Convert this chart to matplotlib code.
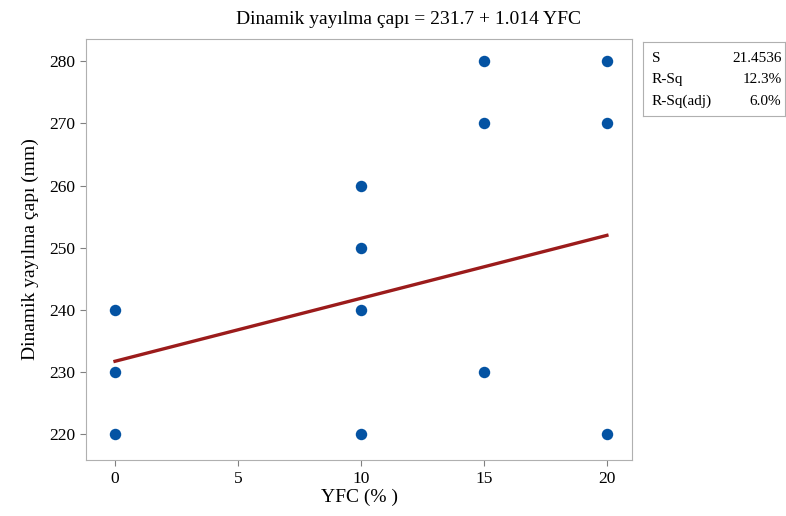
import matplotlib
matplotlib.use("Agg")
import matplotlib.pyplot as plt
import numpy as np

plt.rcParams['font.family'] = ['Liberation Serif', 'DejaVu Serif']

# observations
yfc = [0, 0, 0, 10, 10, 10, 10, 15, 15, 15, 20, 20, 20]
cap = [220, 230, 240, 220, 240, 250, 260, 230, 270, 280, 220, 270, 280]

# fitted line and summary
intercept = 231.7
slope = 1.014
stat_names = ["S", "R-Sq", "R-Sq(adj)"]
stat_vals = ["21.4536", "12.3%", "6.0%"]

fig = plt.figure(figsize=(7.86, 5.16), dpi=100)
ax = fig.add_axes([86/786, 56/516, 546/786, 421/516])

ax.scatter(yfc, cap, s=68, color='#0453a3', zorder=3, linewidths=0)
xs = np.linspace(0, 20, 50)
ax.plot(xs, intercept + slope * xs, color='#9b1b1b', lw=2.4, zorder=2)

ax.set_xlim(-1.18, 21.02)
ax.set_ylim(215.8, 283.6)
ax.set_xticks([0, 5, 10, 15, 20])
ax.set_yticks([220, 230, 240, 250, 260, 270, 280])
for sp in ax.spines.values():
    sp.set_color('#b0b0b0')
ax.tick_params(direction='out', length=4, color='#808080', labelsize=12.5,
               top=False, right=False, pad=4)

ax.set_xlabel("YFC (% )", fontsize=14, labelpad=1)
ax.set_ylabel("Dinamik yayılma çapı (mm)", fontsize=14, labelpad=7)
fig.text(409/786, 1 - 19/516,
         "Dinamik yayılma çapı = %.1f + %.3f YFC" % (intercept, slope),
         fontsize=14, ha='center', va='center')

# summary box on the right
box = fig.add_axes([643/786, (516-116)/516, 142/786, 74/516])
box.set_xticks([])
box.set_yticks([])
for sp in box.spines.values():
    sp.set_color('#b0b0b0')
for i, (n, v) in enumerate(zip(stat_names, stat_vals)):
    yy = 0.78 - i * 0.29
    box.text(0.06, yy, n, fontsize=11, va='center', ha='left', transform=box.transAxes)
    box.text(0.975, yy, v, fontsize=11, va='center', ha='right', transform=box.transAxes)

fig.savefig("out.png", dpi=100)
